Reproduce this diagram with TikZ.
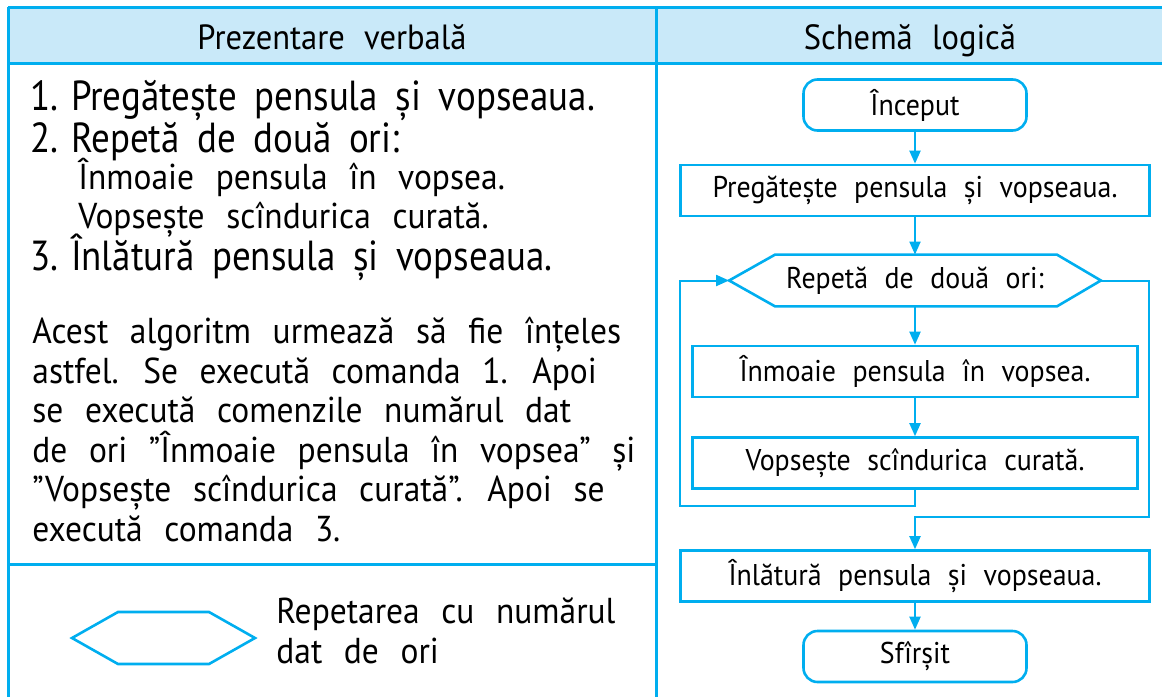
\documentclass[tikz,border=0pt]{standalone}
\usepackage{fontspec}
\setmainfont{PT Sans}[FakeStretch=0.93]
\newfontfamily\narrowfont{PT Sans}[FakeStretch=0.88]
\usetikzlibrary{arrows.meta,calc}
\definecolor{lineblue}{RGB}{0,174,239}
\definecolor{headblue}{RGB}{201,233,249}
\newcommand\widesp[1]{\spaceskip=#1em\relax}
\newcommand\numsp{\hspace{.3em}}

\begin{document}
\begin{tikzpicture}[x=0.5pt,y=-0.5pt,
  txt/.style={font=\fontsize{15}{19.5}\selectfont\widesp{.55},inner sep=0pt},
  head/.style={font=\fontsize{17.5}{19.5}\selectfont\widesp{.55},inner sep=0pt,anchor=base},
  big/.style={font=\narrowfont\fontsize{21}{24}\selectfont\widesp{.42},inner sep=0pt,anchor=base west},
  para/.style={font=\fontsize{18}{19.75}\selectfont\widesp{.6},inner sep=0pt,align=left,anchor=base west},
  box/.style={draw=lineblue,line width=1.3pt,txt,minimum width=#1,minimum height=25.5pt},
  term/.style={box=111.5pt,rounded corners=7pt},
  frame/.style={draw=lineblue,line width=1.5pt},
  arr/.style={draw=lineblue,line width=1pt,-{Triangle[length=6.5pt,width=5.5pt]}}]
\useasboundingbox (0,0) rectangle (1162,697);
% table
\fill[headblue] (8,7) rectangle (1162,63);
\draw[frame] (8,7) -- (1162,7);
\draw[frame] (8,63) -- (1162,63);
\draw[frame] (8,7) -- (8,697);
\draw[frame] (656,7) -- (656,697);
\draw[frame] (8,564) -- (656,564);
\node[head] (h1) at (332,49) {Prezentare verbală};
\node[head] (h2) at (910,49) {Schemă logică};
% verbal side
\node[big] (v1) at (30,110) {1.\numsp Pregătește pensula și vopseaua.};
\node[big] (v2) at (30,152) {2.\numsp Repetă de două ori:};
\node[para] (v2a) at (78,189) {Înmoaie pensula în vopsea.};
\node[para] (v2b) at (78,228) {Vopsește scîndurica curată.};
\node[big] (v3) at (30,270) {3.\numsp Înlătură pensula și vopseaua.};
% anchored at the last line
\node[para] (expl) at (32,541)
  {Acest algoritm urmează să fie înțeles\\ astfel. Se execută comanda 1. Apoi\\
   se execută comenzile numărul dat\\ de ori ”Înmoaie pensula în vopsea” și\\
   ”Vopsește scîndurica curată”. Apoi se\\ execută comanda 3.};
\draw[draw=lineblue,line width=1.3pt] (72,638) -- (118,612) -- (209,612) -- (255,638) -- (209,664) -- (118,664) -- cycle;
\node[para] (leg) at (276,663) {Repetarea cu numărul\\ dat de ori};
% flowchart
\node[term] (start) at (915,105) {Început};
\node[box=234.5pt] (prep) at (915,190.5) {Pregătește pensula și vopseaua.};
\node[txt,minimum width=185.5pt,minimum height=25.5pt] (rep) at (915,280.5) {Repetă de două ori:};
\draw[draw=lineblue,line width=1.3pt] (rep.west) -- ([xshift=23pt]rep.north west) -- ([xshift=-22pt]rep.north east)
  -- (rep.east) -- ([xshift=-22pt]rep.south east) -- ([xshift=23pt]rep.south west) -- cycle;
\node[box=222.5pt] (dip) at (915,371.5) {Înmoaie pensula în vopsea.};
\node[box=222.5pt] (paint) at (915,463) {Vopsește scîndurica curată.};
\node[box=234.5pt] (remove) at (915,576) {Înlătură pensula și vopseaua.};
\node[term] (stop) at (915,656.5) {Sfîrșit};
\coordinate (loopL) at (680,506);
\coordinate (loopR) at (1149,517);
\draw[arr] (start) -- (prep);
\draw[arr] (prep) -- (rep);
\draw[arr] (rep) -- (dip);
\draw[arr] (dip) -- (paint);
\draw[arr] (paint.south) |- (loopL) |- (rep.west);
\draw[arr] (rep.east) -| (loopR) -| (remove.north);
\draw[arr] (remove) -- (stop);
\end{tikzpicture}
\end{document}
